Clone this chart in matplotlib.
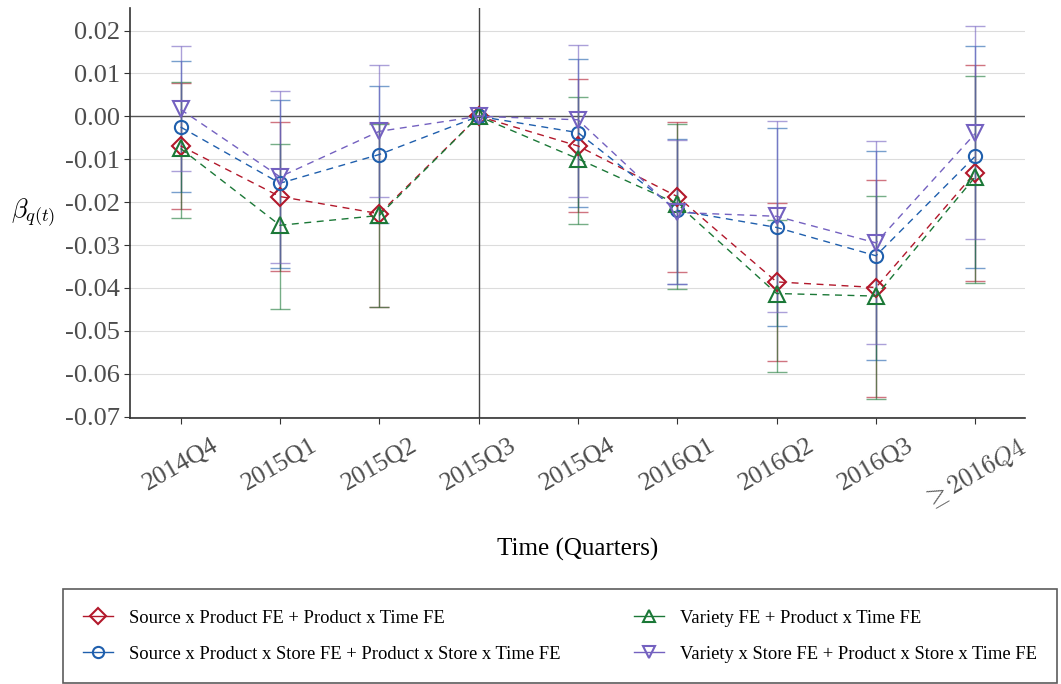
"""
Event-study coefficients by quarter for four fixed-effect specifications,
with 95% confidence intervals (2015Q3 is the omitted reference quarter).
"""

import matplotlib
matplotlib.use("Agg")
import matplotlib.pyplot as plt
from matplotlib.lines import Line2D
import numpy as np

plt.rcParams['font.family'] = ['Liberation Serif', 'DejaVu Serif']
plt.rcParams['mathtext.fontset'] = 'cm'

# Quarters on the x axis
quarters = ['2014Q4', '2015Q1', '2015Q2', '2015Q3', '2015Q4',
            '2016Q1', '2016Q2', '2016Q3', r'$\geq 2016Q4$']
ref_quarter = '2015Q3'

# Source x Product FE + Product x Time FE
src_prod_est = [-0.0069, -0.0187, -0.0227, 0.0, -0.0069, -0.0187, -0.0386, -0.0399, -0.0131]
src_prod_lo = [-0.0216, -0.0361, -0.0444, 0.0, -0.0224, -0.0364, -0.0571, -0.0654, -0.0384]
src_prod_hi = [0.0077, -0.0013, -0.0016, 0.0, 0.0087, -0.0014, -0.0202, -0.0148, 0.0120]

# Source x Product x Store FE + Product x Store x Time FE
src_store_est = [-0.0025, -0.0156, -0.0089, 0.0, -0.0038, -0.0219, -0.0259, -0.0325, -0.0093]
src_store_lo = [-0.0177, -0.0353, -0.0249, 0.0, -0.0211, -0.0390, -0.0489, -0.0569, -0.0353]
src_store_hi = [0.0128, 0.0038, 0.0071, 0.0, 0.0134, -0.0054, -0.0027, -0.0081, 0.0165]

# Variety FE + Product x Time FE
var_est = [-0.0075, -0.0254, -0.0231, 0.0, -0.0099, -0.0204, -0.0413, -0.0419, -0.0141]
var_lo = [-0.0237, -0.0448, -0.0445, 0.0, -0.0252, -0.0402, -0.0596, -0.0660, -0.0389]
var_hi = [0.0079, -0.0064, -0.0019, 0.0, 0.0044, -0.0019, -0.0242, -0.0186, 0.0094]

# Variety x Store FE + Product x Store x Time FE
var_store_est = [0.0016, -0.0141, -0.0035, 0.0, -0.0008, -0.0224, -0.0233, -0.0295, -0.0040]
var_store_lo = [-0.0127, -0.0343, -0.0188, 0.0, -0.0188, -0.0392, -0.0456, -0.0531, -0.0286]
var_store_hi = [0.0163, 0.0058, 0.0119, 0.0, 0.0167, -0.0055, -0.0011, -0.0058, 0.0210]

series_labels = [
    'Source x Product FE + Product x Time FE',
    'Source x Product x Store FE + Product x Store x Time FE',
    'Variety FE + Product x Time FE',
    'Variety x Store FE + Product x Store x Time FE',
]


def plot_event_study():
    series = [
        (src_prod_est, src_prod_lo, src_prod_hi, '#B2182B', 'D', 9),
        (src_store_est, src_store_lo, src_store_hi, '#1F5FAD', 'o', 9.5),
        (var_est, var_lo, var_hi, '#1B7837', '^', 11),
        (var_store_est, var_store_lo, var_store_hi, '#7461C0', 'v', 11),
    ]

    fig = plt.figure(figsize=(10.61, 6.84), dpi=100)
    ax = fig.add_axes([0.1225, 0.389, 0.8435, 0.599])

    x = np.arange(len(quarters))
    handles = []
    for (est, lo, hi, color, marker, ms), label in zip(series, series_labels):
        est = np.array(est)
        yerr = np.vstack([est - np.array(lo), np.array(hi) - est])
        ax.errorbar(x, est, yerr=yerr, fmt='none', ecolor=color, elinewidth=1.0,
                    capsize=7, capthick=1.0, alpha=0.6, zorder=3)
        ax.plot(x, est, linestyle=(0, (5, 4)), linewidth=1.0, color=color,
                marker=marker, markersize=ms, markerfacecolor='none',
                markeredgecolor=color, markeredgewidth=1.5, zorder=4)
        handles.append(Line2D([0], [0], color=color, linewidth=1.0, marker=marker,
                              markersize=ms * 0.85, markerfacecolor='none',
                              markeredgecolor=color, markeredgewidth=1.5, label=label))

    # reference lines
    ax.axhline(0, color='#555555', linewidth=1.0, zorder=2)
    ax.axvline(quarters.index(ref_quarter), color='#444444', linewidth=1.0, zorder=2)

    ax.set_xlim(-0.51, len(quarters) - 0.5)
    ax.set_ylim(-0.0703, 0.0252)
    yticks = np.round(np.arange(-0.07, 0.021, 0.01), 2)
    ax.set_yticks(yticks)
    ax.set_yticklabels([f'{abs(v):.2f}' if v == 0 else f'{v:.2f}' for v in yticks])
    ax.set_xticks(x)
    ax.set_xticklabels(quarters, rotation=30, ha='center', va='top')

    ax.grid(axis='y', color='#dcdcdc', linewidth=0.8)
    ax.set_axisbelow(True)
    for side in ['top', 'right']:
        ax.spines[side].set_visible(False)
    for side in ['left', 'bottom']:
        ax.spines[side].set_color('#333333')
        ax.spines[side].set_linewidth(1.2)
    ax.tick_params(axis='both', colors='#333333', length=4, width=0.8,
                   labelcolor='#4d4d4d')
    ax.tick_params(axis='y', labelsize=19, pad=3)
    ax.tick_params(axis='x', labelsize=18.5, pad=8)

    ax.set_xlabel('Time (Quarters)', fontsize=18, va='center')
    ax.xaxis.set_label_coords(0.5, -0.322)
    ax.set_ylabel(r'$\beta_{q(t)}$', fontsize=19, rotation=0, ha='center', va='center')
    ax.yaxis.set_label_coords(-0.108, 0.5)

    leg = fig.legend(handles=handles, loc='lower left', ncol=2, mode='expand',
                     bbox_to_anchor=(63 / 1061, 1 / 684, 994 / 1061, 96 / 684),
                     fontsize=13.4, frameon=True, fancybox=False, edgecolor='#333333',
                     handlelength=1.6, handletextpad=0.85, labelspacing=1.0,
                     borderaxespad=0.0, borderpad=1.1)
    leg.get_frame().set_linewidth(1.2)

    fig.savefig('out.png', dpi=100)


def main():
    plot_event_study()


if __name__ == "__main__":
    main()
